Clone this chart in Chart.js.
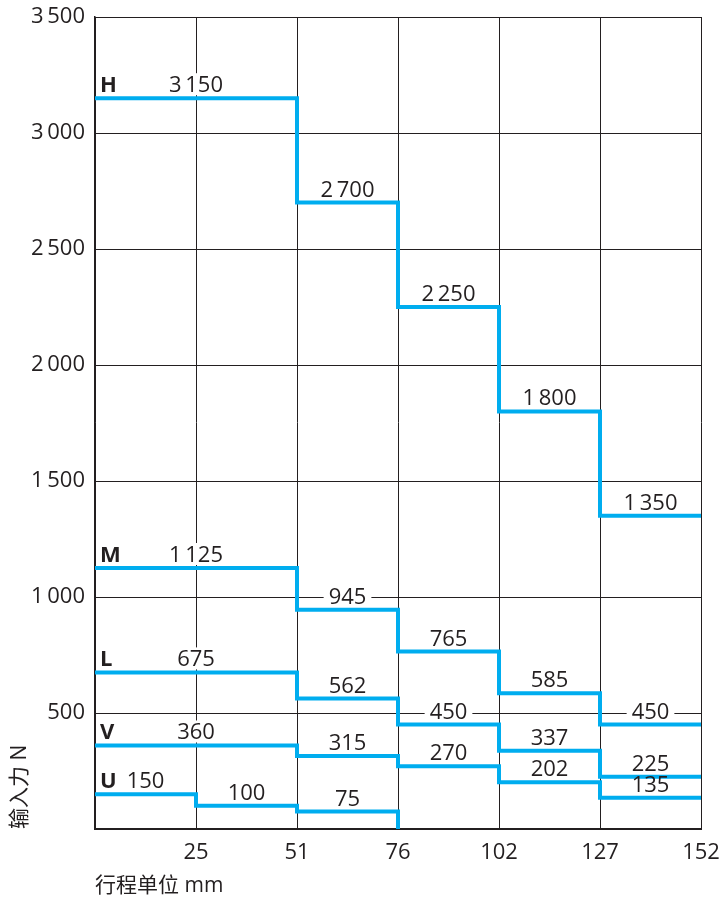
<!DOCTYPE html>
<html>
<head>
<meta charset="utf-8">
<script src="https://cdn.jsdelivr.net/npm/chart.js@4"></script>
<style>
  html, body { margin: 0; padding: 0; background: #fff; }
  #wrap { width: 723px; height: 899px; }
</style>
</head>
<body>
<div id="wrap"><canvas id="forceChart" width="723" height="899"></canvas></div>
<script>
// Stroke positions (evenly spaced steps), in mm
const xTickLabels = ['', '25', '51', '76', '102', '127', '152'];

// Input force in N for each stroke step, one array per spring series
const seriesNames = ['H', 'M', 'L', 'V', 'U'];
const hForce = [3150, 3150, 2700, 2250, 1800, 1350];
const mForce = [1125, 1125, 945, 765, 585, 450];
const lForce = [675, 675, 562, 450, 337, 225];
const vForce = [360, 360, 315, 270, 202, 135];
const uForce = [150, 100, 75];
// where each line ends after its last step (U drops to the axis)
const endForce = [1350, 450, 225, 135, 0];

const lineColor = '#00adef';
const inkColor = '#231f20';
const textFont = "'Open Sans', 'Noto Sans', sans-serif";
const cjkFont = "'Open Sans', 'Noto Sans CJK SC', sans-serif";

function fmt(v) {
    if (v >= 1000) return Math.floor(v / 1000) + '\u2009' + String(v % 1000).padStart(3, '0');
    return String(v);
}

// merge equal neighbouring steps so one label sits on each flat run
function runsOf(values) {
    const runs = [];
    values.forEach((v, i) => {
        const last = runs[runs.length - 1];
        if (last && last.value === v) last.end = i + 1;
        else runs.push({ start: i, end: i + 1, value: v });
    });
    return runs;
}

const allForce = [hForce, mForce, lForce, vForce, uForce];

// each value holds over [i, i+1]; the line keeps the value until the next point
const datasets = allForce.map((values, k) => {
    const pts = [{ x: 0, y: values[0] }];
    values.forEach((v, i) => pts.push({ x: i + 1, y: v }));
    pts.push({ x: values.length, y: endForce[k] });
    return {
        label: seriesNames[k],
        data: pts,
        stepped: 'after',
        borderColor: lineColor,
        borderWidth: 4,
        pointRadius: 0,
        fill: false,
        clip: false
    };
});

function labelSpots(chart) {
    const xs = chart.scales.x, ys = chart.scales.y;
    const spots = [];
    allForce.forEach((values, k) => {
        runsOf(values).forEach(r => {
            spots.push({
                x: xs.getPixelForValue((r.start + r.end) / 2),
                y: ys.getPixelForValue(r.value) - 6,
                text: fmt(r.value)
            });
        });
    });
    return spots;
}

const stepLabels = {
    id: 'stepLabels',
    beforeDatasetsDraw(chart) {
        const ctx = chart.ctx;
        ctx.save();
        ctx.font = '22px ' + textFont;
        ctx.fillStyle = '#fff';
        labelSpots(chart).forEach(s => {
            const w = ctx.measureText(s.text).width;
            ctx.fillRect(s.x - w / 2 - 5, s.y - 19, w + 10, 22);
        });
        ctx.restore();
    },
    afterDatasetsDraw(chart) {
        const ctx = chart.ctx;
        const area = chart.chartArea;
        const ys = chart.scales.y;
        ctx.save();
        ctx.fillStyle = inkColor;
        ctx.textBaseline = 'alphabetic';
        ctx.textAlign = 'center';
        ctx.font = '22px ' + textFont;
        labelSpots(chart).forEach(s => ctx.fillText(s.text, s.x, s.y));
        // series letters
        ctx.textAlign = 'left';
        ctx.font = 'bold 22px ' + textFont;
        allForce.forEach((values, k) => {
            ctx.fillText(seriesNames[k], area.left + 5, ys.getPixelForValue(values[0]) - 6);
        });
        ctx.restore();
    }
};

new Chart(document.getElementById('forceChart'), {
    type: 'line',
    data: { datasets: datasets },
    plugins: [stepLabels],
    options: {
        responsive: false,
        animation: false,
        devicePixelRatio: 1,
        layout: { padding: { top: 17, right: 22, left: 0, bottom: 0 } },
        plugins: { legend: { display: false }, tooltip: { enabled: false } },
        scales: {
            x: {
                type: 'linear',
                min: 0,
                max: 6,
                ticks: {
                    stepSize: 1,
                    padding: 11,
                    color: inkColor,
                    font: { family: textFont, size: 22 },
                    callback: v => xTickLabels[v]
                },
                grid: { color: inkColor, lineWidth: 1, drawTicks: false },
                border: { color: inkColor, width: 2 },
                title: {
                    display: true,
                    text: '行程单位 mm',
                    align: 'start',
                    color: inkColor,
                    font: { family: cjkFont, size: 21 },
                    padding: { top: 0, bottom: 0 }
                },
                afterFit: s => { s.height = 70; s.paddingRight = 0; s.paddingLeft = 0; }
            },
            y: {
                min: 0,
                max: 3500,
                ticks: {
                    stepSize: 500,
                    padding: 10,
                    color: inkColor,
                    font: { family: textFont, size: 22 },
                    callback: v => (v === 0 ? '' : fmt(v))
                },
                grid: { color: inkColor, lineWidth: 1, drawTicks: false },
                border: { color: inkColor, width: 1.5 },
                title: {
                    display: true,
                    text: '输入力 N',
                    align: 'start',
                    color: inkColor,
                    font: { family: cjkFont, size: 21 },
                    padding: { top: 7, bottom: 0 }
                },
                afterFit: s => { s.width = 95; s.paddingTop = 0; s.paddingBottom = 0; }
            }
        }
    }
});
</script>
</body>
</html>
